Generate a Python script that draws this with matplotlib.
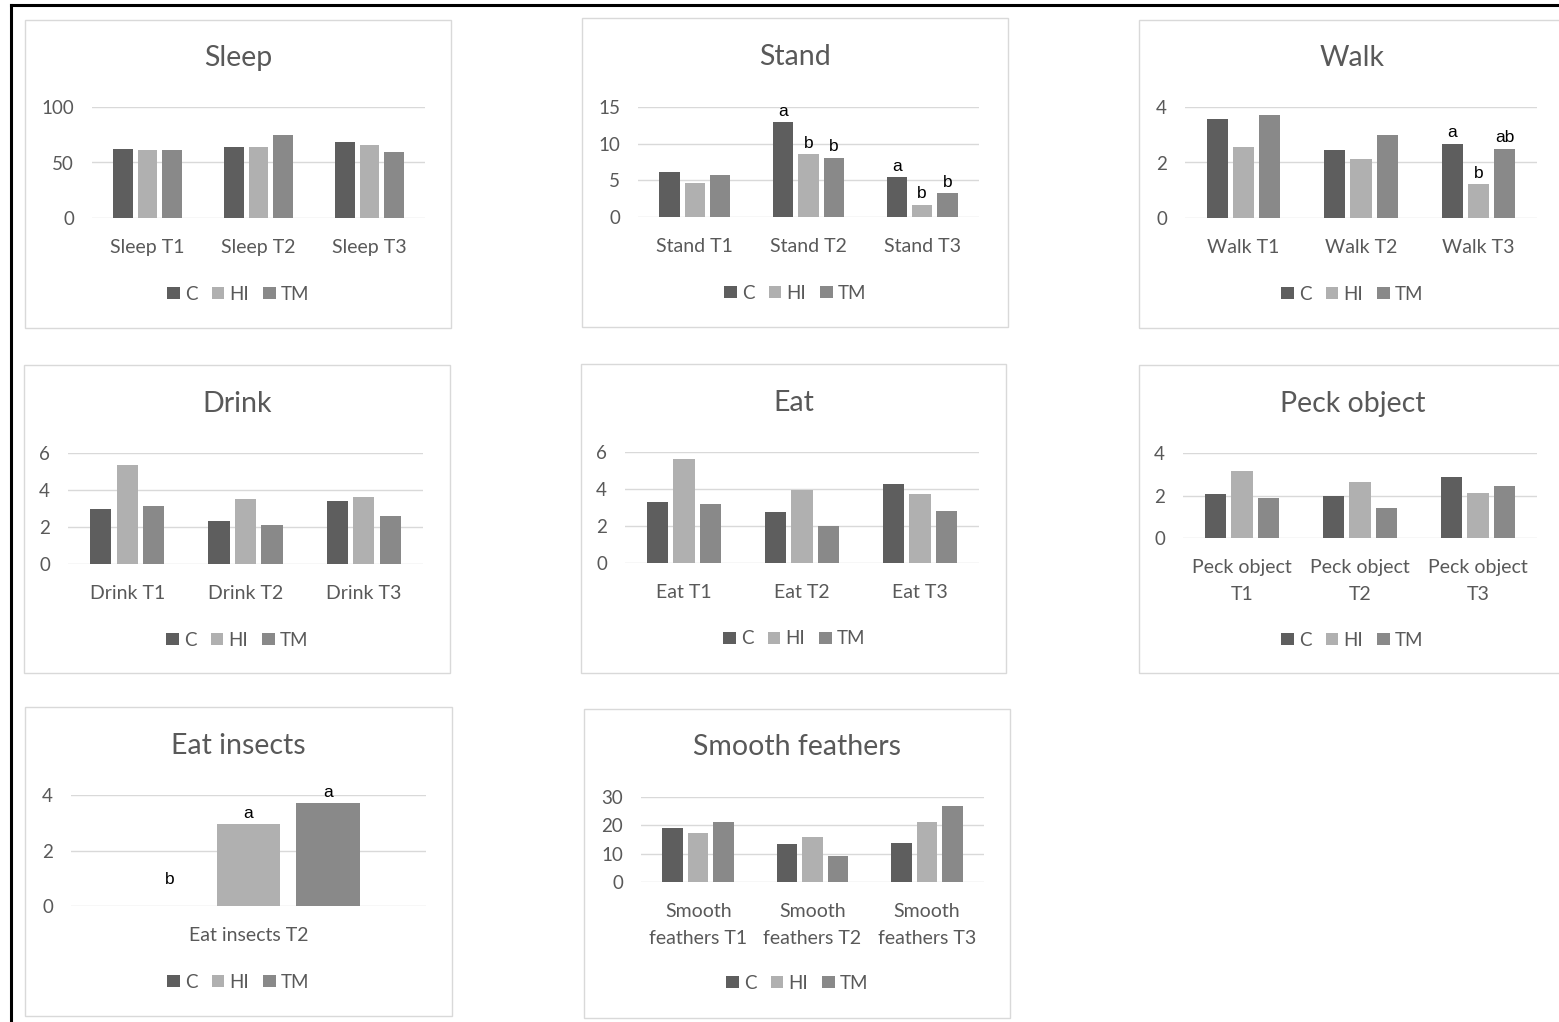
import matplotlib
matplotlib.use("Agg")
import matplotlib.pyplot as plt
from matplotlib.patches import Rectangle, Patch
from matplotlib.lines import Line2D
import numpy as np

plt.rcParams['font.family'] = ['Lato', 'DejaVu Sans']

W, H = 1559, 1022

series_names = ['C', 'HI', 'TM']
colors = ['#5e5e5e', '#b0b0b0', '#898989']

# ---------------- data ----------------
sleep_cats = ['Sleep T1', 'Sleep T2', 'Sleep T3']
sleep_C = [62.5, 63.7, 68.2]
sleep_HI = [61.3, 63.7, 65.8]
sleep_TM = [61.3, 74.8, 59.2]
sleep_ticks = [0, 50, 100]

stand_cats = ['Stand T1', 'Stand T2', 'Stand T3']
stand_C = [6.2, 12.9, 5.4]
stand_HI = [4.6, 8.6, 1.7]
stand_TM = [5.7, 8.1, 3.25]
stand_ticks = [0, 5, 10, 15]
stand_letters_C = ['', 'a', 'a']
stand_letters_HI = ['', 'b', 'b']
stand_letters_TM = ['', 'b', 'b']

walk_cats = ['Walk T1', 'Walk T2', 'Walk T3']
walk_C = [3.57, 2.45, 2.68]
walk_HI = [2.55, 2.14, 1.21]
walk_TM = [3.70, 2.99, 2.50]
walk_ticks = [0, 2, 4]
walk_letters_C = ['', '', 'a']
walk_letters_HI = ['', '', 'b']
walk_letters_TM = ['', '', 'ab']

drink_cats = ['Drink T1', 'Drink T2', 'Drink T3']
drink_C = [2.96, 2.35, 3.43]
drink_HI = [5.37, 3.49, 3.63]
drink_TM = [3.16, 2.10, 2.57]
drink_ticks = [0, 2, 4, 6]

eat_cats = ['Eat T1', 'Eat T2', 'Eat T3']
eat_C = [3.28, 2.74, 4.29]
eat_HI = [5.62, 3.96, 3.75]
eat_TM = [3.21, 2.02, 2.81]
eat_ticks = [0, 2, 4, 6]

peck_cats = ['Peck object\nT1', 'Peck object\nT2', 'Peck object\nT3']
peck_C = [2.05, 1.96, 2.87]
peck_HI = [3.17, 2.64, 2.12]
peck_TM = [1.88, 1.43, 2.46]
peck_ticks = [0, 2, 4]

insects_cats = ['Eat insects T2']
insects_C = [0.0]
insects_HI = [2.95]
insects_TM = [3.71]
insects_ticks = [0, 2, 4]
insects_letters_C = ['b']
insects_letters_HI = ['a']
insects_letters_TM = ['a']

smooth_cats = ['Smooth\nfeathers T1', 'Smooth\nfeathers T2', 'Smooth\nfeathers T3']
smooth_C = [19.1, 13.3, 13.9]
smooth_HI = [17.3, 16.0, 21.2]
smooth_TM = [21.2, 9.06, 26.9]
smooth_ticks = [0, 10, 20, 30]

# ---------------- layout (pixels) ----------------
panels = [
    dict(title='Sleep', cats=sleep_cats, vals=[sleep_C, sleep_HI, sleep_TM], ticks=sleep_ticks,
         box=(25, 20, 451, 328), grid=(92, 425, 107, 218), title_y=58, leg_y=294, letters=None),
    dict(title='Stand', cats=stand_cats, vals=[stand_C, stand_HI, stand_TM], ticks=stand_ticks,
         box=(582, 18, 1008, 327), grid=(638, 979, 107, 217), title_y=57, leg_y=293,
         letters=[stand_letters_C, stand_letters_HI, stand_letters_TM]),
    dict(title='Walk', cats=walk_cats, vals=[walk_C, walk_HI, walk_TM], ticks=walk_ticks,
         box=(1139, 20, 1566, 328), grid=(1185, 1537, 107, 218), title_y=58, leg_y=294,
         letters=[walk_letters_C, walk_letters_HI, walk_letters_TM]),
    dict(title='Drink', cats=drink_cats, vals=[drink_C, drink_HI, drink_TM], ticks=drink_ticks,
         box=(24, 365, 450, 673), grid=(68, 423, 453, 564), title_y=404, leg_y=640, letters=None),
    dict(title='Eat', cats=eat_cats, vals=[eat_C, eat_HI, eat_TM], ticks=eat_ticks,
         box=(581, 364, 1006, 673), grid=(625, 979, 452, 563), title_y=403, leg_y=639, letters=None),
    dict(title='Peck object', cats=peck_cats, vals=[peck_C, peck_HI, peck_TM], ticks=peck_ticks,
         box=(1139, 365, 1566, 673), grid=(1183, 1537, 453, 538), title_y=404, leg_y=640, letters=None),
    dict(title='Eat insects', cats=insects_cats, vals=[insects_C, insects_HI, insects_TM], ticks=insects_ticks,
         box=(25, 707, 452, 1016), grid=(71, 426, 795, 906), title_y=746, leg_y=982,
         letters=[insects_letters_C, insects_letters_HI, insects_letters_TM]),
    dict(title='Smooth feathers', cats=smooth_cats, vals=[smooth_C, smooth_HI, smooth_TM], ticks=smooth_ticks,
         box=(584, 709, 1010, 1018), grid=(641, 984, 797, 882), title_y=747, leg_y=983, letters=None),
]

fig = plt.figure(figsize=(W / 100, H / 100), dpi=100)
fig.patch.set_facecolor('white')

def fx(x):
    return x / W

def fy(y):
    return 1 - y / H

text_color = '#595959'
grid_color = '#d9d9d9'
bar_w = 0.18
step = 0.223

for p in panels:
    bx0, by0, bx1, by1 = p['box']
    fig.add_artist(Rectangle((fx(bx0), fy(by1)), fx(bx1) - fx(bx0), fy(by0) - fy(by1),
                             transform=fig.transFigure, facecolor='none',
                             edgecolor=grid_color, linewidth=1.0))
    gx0, gx1, gtop, gzero = p['grid']
    ax = fig.add_axes([fx(gx0), fy(gzero), fx(gx1) - fx(gx0), fy(gtop) - fy(gzero)])
    ax.set_facecolor('none')
    n = len(p['cats'])
    x = np.arange(n)
    for s, (vals, col) in enumerate(zip(p['vals'], colors)):
        xs = x + (s - 1) * step
        ax.bar(xs, vals, width=bar_w, color=col, zorder=3)
        if p['letters'] is not None:
            for xi, v, lab in zip(xs, vals, p['letters'][s]):
                if lab:
                    off = 16 if v == 0 else 4.5
                    ax.annotate(lab, (xi, v), xytext=(0, off), textcoords='offset points',
                                ha='center', va='baseline', fontsize=12.5,
                                family=['Liberation Sans', 'DejaVu Sans'], color='black',
                                annotation_clip=False)
    ax.set_xlim(-0.5, n - 0.5)
    ax.set_ylim(0, p['ticks'][-1])
    ax.set_yticks(p['ticks'])
    ax.set_xticks(x)
    ax.set_xticklabels(p['cats'])
    for lab in ax.get_xticklabels():
        lab.set_linespacing(1.75)
    for sp in ax.spines.values():
        sp.set_visible(False)
    ax.yaxis.grid(True, color=grid_color, linewidth=1.0, zorder=0)
    ax.set_axisbelow(True)
    ax.tick_params(axis='y', length=0, pad=13, labelsize=13.5, labelcolor=text_color)
    ax.tick_params(axis='x', length=0, pad=15, labelsize=14, labelcolor=text_color)
    # title
    fig.text(fx((bx0 + min(bx1, bx0 + 427)) / 2), fy(p['title_y']), p['title'],
             ha='center', va='center', fontsize=20.5, color=text_color)
    # legend
    handles = [Patch(facecolor=c, edgecolor='none', label=nm) for c, nm in zip(colors, series_names)]
    ax.legend(handles=handles, loc='center', ncol=3, frameon=False,
              bbox_to_anchor=(fx((bx0 + bx0 + 427) / 2), fy(p['leg_y'])),
              bbox_transform=fig.transFigure, fontsize=13.5, labelcolor=text_color,
              handlelength=0.65, handleheight=0.65, handletextpad=0.3, columnspacing=0.75,
              borderpad=0, borderaxespad=0)

# outer frame (left and top edges)
fig.add_artist(Line2D([fx(11), fx(11)], [fy(5), 0], transform=fig.transFigure,
                      color='black', linewidth=2.2))
fig.add_artist(Line2D([fx(11), 1], [fy(5), fy(5)], transform=fig.transFigure,
                      color='black', linewidth=2.2))

fig.savefig('out.png', dpi=100, facecolor='white')
